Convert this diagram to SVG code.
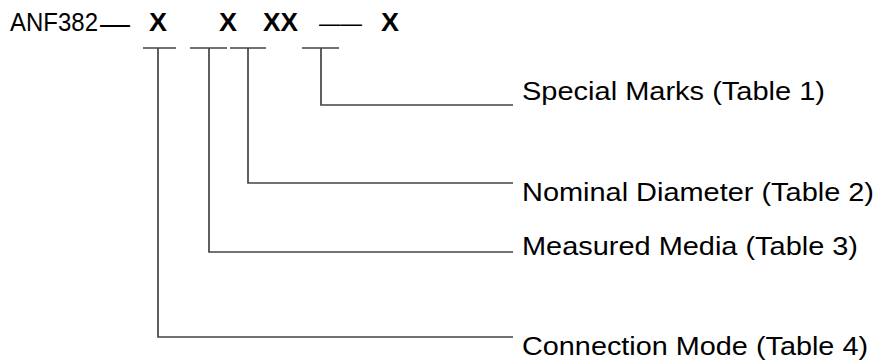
<svg xmlns="http://www.w3.org/2000/svg" width="876" height="362" viewBox="0 0 876 362">
  <style>
    .code { font-family: "Liberation Sans", Arial, sans-serif; font-size: 25px; fill: #000; }
    .dash { font-family: "Liberation Sans", Arial, sans-serif; fill: #000; }
    .x { font-family: "Liberation Sans", Arial, sans-serif; font-size: 25px; font-weight: bold; fill: #000; }
    .label { font-family: "Liberation Sans", Arial, sans-serif; font-size: 25px; fill: #000; }
    .wire { fill: none; stroke: #444; stroke-width: 1.7; }
  </style>
  <rect width="876" height="362" fill="#fff"/>

  <!-- model code header -->
  <g id="model-code">
    <text class="code" x="10" y="31" textLength="88" lengthAdjust="spacingAndGlyphs">ANF382</text>
    <text class="dash" x="100" y="34" font-size="30">—</text>
    <text class="x" x="149" y="31" textLength="18" lengthAdjust="spacingAndGlyphs">X</text>
    <text class="x" x="219" y="31" textLength="18" lengthAdjust="spacingAndGlyphs">X</text>
    <text class="x" x="263" y="31" textLength="35" lengthAdjust="spacingAndGlyphs">XX</text>
    <text class="dash" x="319" y="31" font-size="21.5">——</text>
    <text class="x" x="381" y="31" textLength="18" lengthAdjust="spacingAndGlyphs">X</text>
  </g>

  <!-- labels -->
  <g id="special-marks">
    <text class="label" x="522" y="100" textLength="303" lengthAdjust="spacingAndGlyphs">Special Marks (Table 1)</text>
  </g>
  <g id="nominal-diameter">
    <text class="label" x="522" y="201" textLength="352" lengthAdjust="spacingAndGlyphs">Nominal Diameter (Table 2)</text>
  </g>
  <g id="measured-media">
    <text class="label" x="522" y="255" textLength="336" lengthAdjust="spacingAndGlyphs">Measured Media (Table 3)</text>
  </g>
  <g id="connection-mode">
    <text class="label" x="522" y="355" textLength="346" lengthAdjust="spacingAndGlyphs">Connection Mode (Table 4)</text>
  </g>

  <!-- leader lines -->
  <g id="connectors">
    <path class="wire" d="M143 48H176M158 48V337H513"/>
    <path class="wire" d="M190 48H227M209 48V252H513"/>
    <path class="wire" d="M230 48H266M248 48V183H513"/>
    <path class="wire" d="M302 48H339M321 48V105H513"/>
  </g>
</svg>
